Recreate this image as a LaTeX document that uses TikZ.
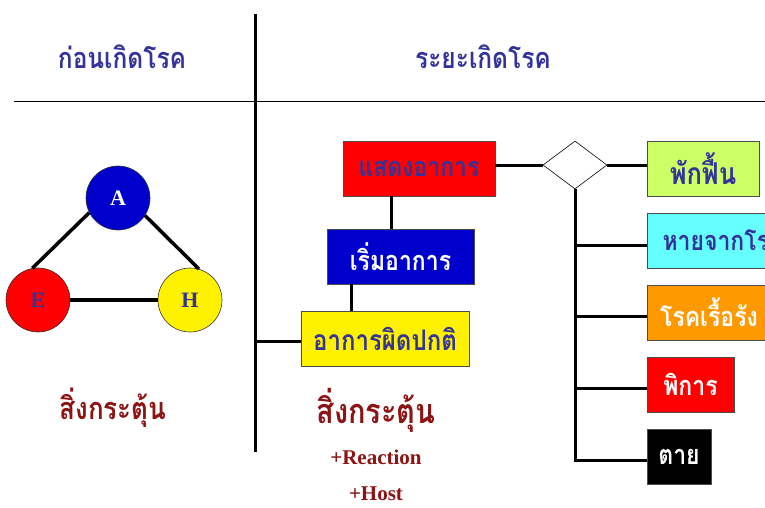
\documentclass[tikz,border=0pt]{standalone}
\usepackage{fontspec}
\setmainfont{Liberation Serif}
\newfontfamily\thai[Script=Thai]{Loma}
\usetikzlibrary{shapes.geometric}
\definecolor{hdr}{HTML}{333399}
\definecolor{dred}{HTML}{8C1414}
\definecolor{ablue}{HTML}{0000CC}
\definecolor{lime}{HTML}{CCFF66}
\definecolor{cyanb}{HTML}{66FFFF}
\definecolor{orng}{HTML}{FF9900}
\newcommand{\tall}[1]{\scalebox{1}[1.18]{#1}}
\newcommand{\tf}[1]{\thai\bfseries\fontsize{#1}{#1}\selectfont}
\begin{document}
\begin{tikzpicture}[x=1pt,y=-1pt,
  box/.style={draw=black!70, line width=0.8pt, inner sep=0pt, minimum height=55pt, font=\tf{23}},
  ball/.style={circle, draw=black!80, line width=0.6pt, minimum size=64pt, inner sep=0pt, font=\bfseries\fontsize{22}{22}\selectfont},
  conn/.style={line width=3pt},
  tri/.style={line width=3.5pt},
  head/.style={text=hdr, font=\tf{24.5}}]
\useasboundingbox (0,0) rectangle (765,507);
\clip (0,0) rectangle (765,507);
% frame lines
\coordinate (dtop) at (255,14);
\coordinate (dbot) at (255,452);
\coordinate (hl) at (14,101);
\coordinate (hr) at (765,101);
\draw[line width=3pt] (dtop) -- (dbot);
\draw[line width=1pt] (hl) -- (hr);
% headers
\node[head] (h1) at (122,57) {\tall{ก่อนเกิดโรค}};
\node[head] (h2) at (483,57) {\tall{ระยะเกิดโรค}};
% triangle
\node[ball, fill=ablue, text=white] (A) at (118,198) {A};
\node[ball, fill=red, text=hdr] (E) at (38,300) {E};
\node[ball, fill=yellow, text=hdr] (H) at (190,300) {H};
\draw[tri] (A.207) -- (E.100);
\draw[tri] (A.327) -- (H.74);
\draw[tri] (E.east) -- (H.west);
\node[text=dred, font=\tf{26}] (s1) at (113,408) {\tall{สิ่งกระตุ้น}};
% stage boxes
\node[box, fill=red, text=hdr, minimum width=152pt] (show) at (419,168.5) {\tall{แสดงอาการ}};
\node[box, fill=ablue, text=white, minimum width=147pt] (start) at (400.5,256.5) {\tall{เริ่มอาการ}};
\node[box, fill=yellow, text=hdr, minimum width=168pt, font=\tf{24}] (abn) at (385,338.5) {\tall{อาการผิดปกติ}};
\draw[conn] ([xshift=-28pt]show.south) -- ([xshift=-28pt]show.south |- start.north);
\draw[conn] ([xshift=-49.5pt]start.south) -- ([xshift=-49.5pt]start.south |- abn.north);
\coordinate (vb) at (255,341);
\draw[conn] (vb) -- (vb -| abn.west);
% outcomes
\node[diamond, draw=black, line width=0.6pt, fill=white, minimum width=64pt, minimum height=48pt, inner sep=0pt] (dia) at (575,165) {};
\draw[conn] (dia.west) -- (dia.west -| show.east);
\node[box, fill=lime, text=hdr, minimum width=112pt, font=\tf{25.5}] (rec) at (703,168.5) {\tall{พักฟื้น}};
\node[box, fill=cyanb, text=hdr, minimum width=153pt] (cure) at (723.5,240.5) {\tall{หายจากโรค}};
\node[box, fill=orng, text=white, minimum width=124pt] (chr) at (709,312.5) {\tall{โรคเรื้อรัง}};
\node[box, fill=red, text=white, minimum width=87pt] (dis) at (690.5,384.5) {\tall{พิการ}};
\node[box, fill=black, text=white, minimum width=64pt] (dead) at (679,456.5) {\tall{ตาย}};
\draw[conn] (dia.east) -- (dia.east -| rec.west);
\coordinate (b1) at (575,245);
\coordinate (b2) at (575,316);
\coordinate (b3) at (575,388);
\coordinate (b4) at (575,460);
\draw[conn] (dia.south) -- (b4) -- (b4 -| dead.west);
\draw[conn] (b1) -- (b1 -| cure.west);
\draw[conn] (b2) -- (b2 -| chr.west);
\draw[conn] (b3) -- (b3 -| dis.west);
% bottom texts
\node[text=dred, font=\tf{29}] (s2) at (376,410) {\tall{สิ่งกระตุ้น}};
\node[text=dred, font=\bfseries\fontsize{21}{21}\selectfont] (r1) at (376,457) {+Reaction};
\node[text=dred, font=\bfseries\fontsize{21}{21}\selectfont] (r2) at (376,494) {+Host};
\end{tikzpicture}
\end{document}
